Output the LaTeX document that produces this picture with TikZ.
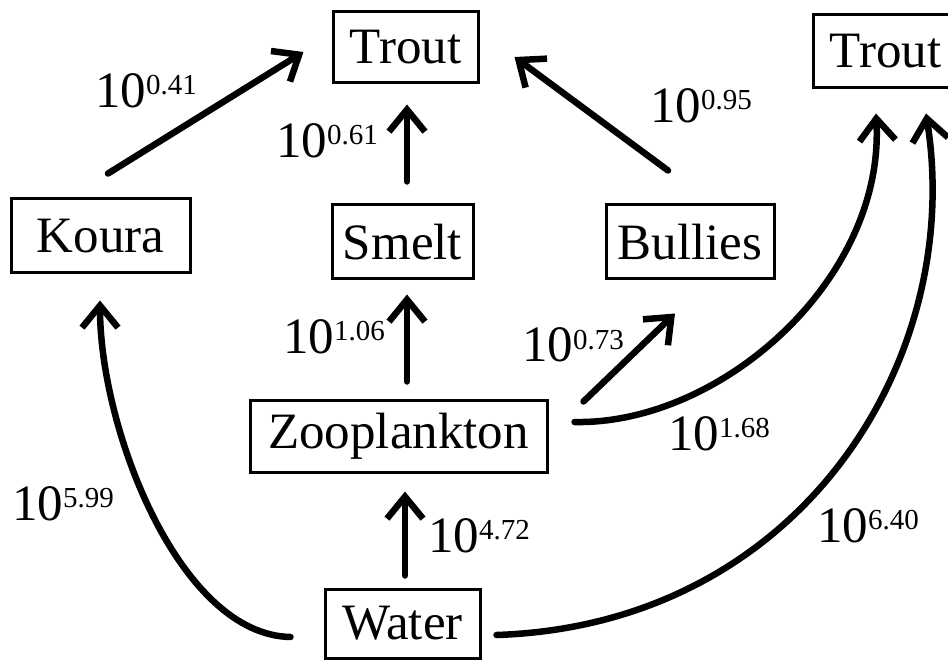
\documentclass[tikz,border=0pt]{standalone}
\usepackage{fontspec}
\setmainfont{Liberation Serif}
\usetikzlibrary{arrows.meta,calc}
\newcommand\tenp[1]{10\raisebox{13pt}{\fontsize{29}{29}\selectfont #1}}
\begin{document}
\begin{tikzpicture}[x=1pt,y=-1pt,
  box/.style={draw,line width=3pt,inner sep=0pt,font=\fontsize{51}{51}\selectfont},
  lbl/.style={inner sep=0pt,anchor=base west,font=\fontsize{51}{51}\selectfont},
  flow/.style={line width=6.5pt,line cap=round,-{Straight Barb[length=22pt,width=36pt]}}]
\useasboundingbox (0,0) rectangle (948,660);
% boxes
\node[box,minimum width=145pt,minimum height=71pt] (troutA) at (405.5,47.5) {Trout};
\node[box,minimum width=145pt,minimum height=73pt] (troutR) at (885.5,51.5) {Trout};
\node[box,minimum width=179pt,minimum height=74pt] (koura) at (100.5,236) {Koura};
\node[box,minimum width=141pt,minimum height=74pt] (smelt) at (402.5,242) {Smelt};
\node[box,minimum width=168pt,minimum height=74pt] (bullies) at (690,242) {Bullies};
\node[box,minimum width=297pt,minimum height=72pt] (zoo) at (398.5,436) {Zooplankton};
\node[box,minimum width=155pt,minimum height=69pt] (water) at (402.5,623.5) {Water};
% straight arrows
\draw[flow] ($(koura.north)+(7.5,-24)$) -- ($(troutA.west)+(-28,4.5)$);
\draw[flow] ($(smelt.north)+(4.5,-22)$) -- ($(troutA.south)+(1.5,20)$);
\draw[flow] ($(bullies.north)+(-22,-33)$) -- ($(troutA.east)+(35,9.5)$);
\draw[flow] ($(zoo.north)+(8.5,-17)$) -- ($(smelt.south)+(4.5,14)$);
\draw[flow] ($(zoo.north east)+(35,3)$) -- ($(bullies.south)+(-15,33)$);
\draw[flow] ($(water.north)+(2.5,-12)$) -- ($(zoo.south)+(6.5,18)$);
% curved arrows
\draw[flow] ($(zoo.east)+(26,-14)$) .. controls (720,425) and (885,280) .. ($(troutR.south)+(-9.5,24)$);
\draw[flow] ($(water.east)+(15,11.5)$) .. controls (800,625) and (965,360) .. ($(troutR.south)+(40.5,24)$);
\draw[flow] ($(water.west)+(-33,13.5)$) .. controls (180,635) and (100,430) .. ($(koura.south)+(-0.5,26)$);
% labels
\node[lbl] (l1) at (95,108) {\tenp{0.41}};
\node[lbl] (l2) at (276,158) {\tenp{0.61}};
\node[lbl] (l3) at (650,123) {\tenp{0.95}};
\node[lbl] (l4) at (283,353) {\tenp{1.06}};
\node[lbl] (l5) at (522,362) {\tenp{0.73}};
\node[lbl] (l6) at (668,450) {\tenp{1.68}};
\node[lbl] (l7) at (428,552) {\tenp{4.72}};
\node[lbl] (l8) at (12,520) {\tenp{5.99}};
\node[lbl] (l9) at (817,542) {\tenp{6.40}};
\end{tikzpicture}
\end{document}
